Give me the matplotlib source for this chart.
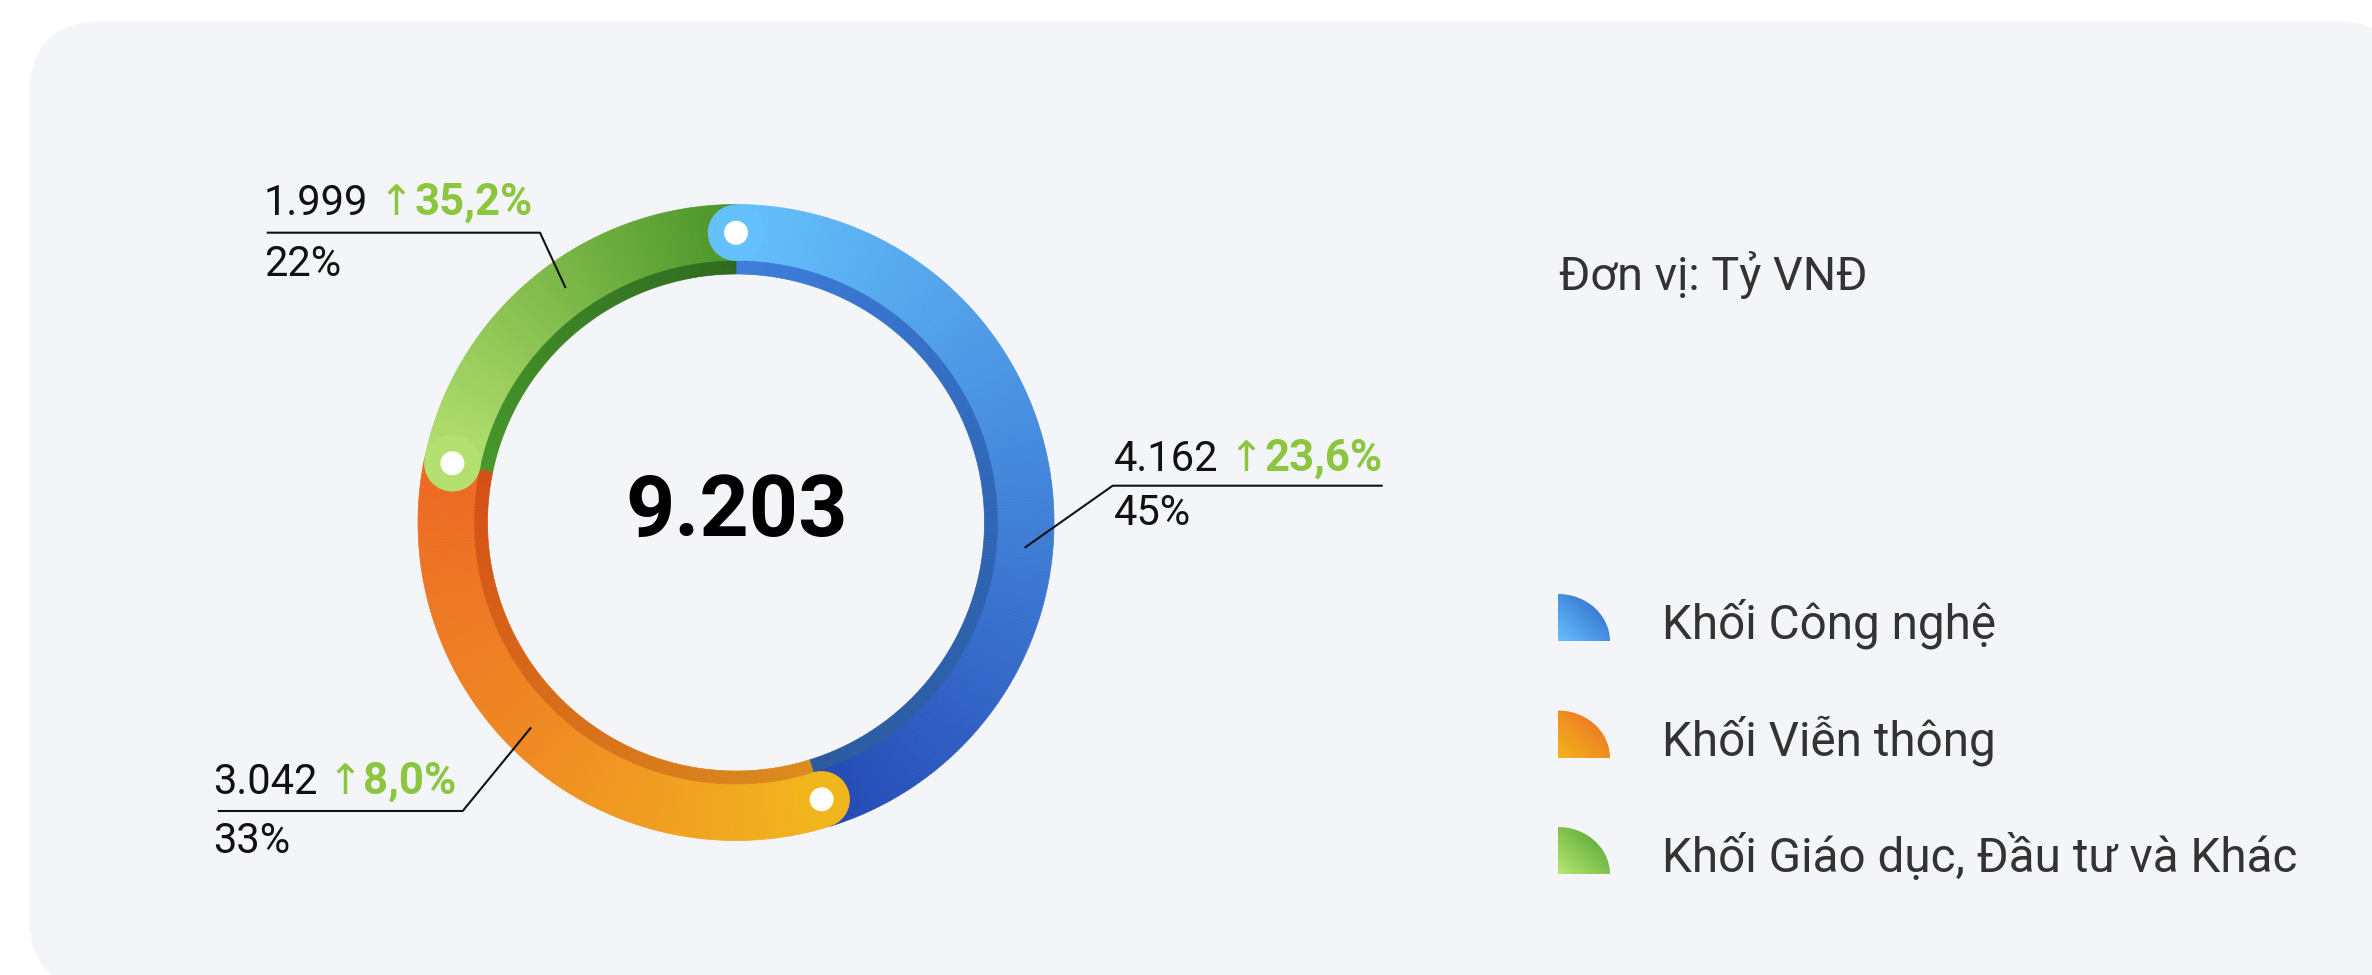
import numpy as np
import matplotlib
matplotlib.use("Agg")
import matplotlib.pyplot as plt
from matplotlib.patches import Wedge, Circle, FancyBboxPatch, Polygon
from matplotlib.colors import LinearSegmentedColormap, to_rgb

W, H = 2372, 975

# data
segments = ["Khối Công nghệ", "Khối Viễn thông", "Khối Giáo dục, Đầu tư và Khác"]
values = [4162, 3042, 1999]          # Tỷ VNĐ
growth = [23.6, 8.0, 35.2]           # % yoy
unit_label = "Đơn vị: Tỷ VNĐ"

# styles: gradient stops along each arc (start -> end), inner shadow band, legend icons
ring_colors = [["#64c1fb", "#4386db", "#2449b4"],
               ["#f2b61d", "#ef8a22", "#ec6824"],
               ["#b4e070", "#80bb4b", "#4a9428"]]
band_colors = [["#3d7cda", "#2f66b8", "#2a5a9e"],
               ["#da8c1c", "#d86d19", "#d44e15"],
               ["#47982b", "#3a8024", "#2e6a1e"]]
icon_colors = [("#64c1fb", "#2c5fc6"), ("#f2b41d", "#ed6a24"), ("#b6e66f", "#4c9e30")]
GREEN_TXT = "#8cc63f"

# layout (pixels, y measured from top)
CX, CY = 736, 522.5
R_OUT, R_RING_IN, R_IN = 318, 261.5, 248.5
R_MID = (R_OUT + R_RING_IN) / 2
CAP_R = (R_OUT - R_RING_IN) / 2
# per segment: anchor angle on ring, elbow point, line end x, text x, value baseline, share baseline
label_layout = [
    (-5, (1112.7, 485.7), 1382.7, 1114, 471, 525),
    (-135, (462.7, 811), 217.7, 213, 794, 853),
    (126, (540, 232.7), 266.7, 264, 215, 276),
]
legend_x, legend_text_x = 1558, 1662.5
legend_baselines = [638.5, 755, 871.5]


def py(y):
    return H - y


def fmt_int(v):
    return f"{v:,}".replace(",", ".")


def fmt_pct(v):
    return f"{v:.1f}".replace(".", ",") + "%"


fig = plt.figure(figsize=(W / 100, H / 100), dpi=100)
fig.patch.set_facecolor("white")
ax = fig.add_axes([0, 0, 1, 1])
ax.set_xlim(0, W)
ax.set_ylim(0, H)
ax.axis("off")

# card background
ax.add_patch(FancyBboxPatch((29, py(990)), 2408 - 29, 990 - 21,
                            boxstyle="round,pad=0,rounding_size=75",
                            fc="#f4f5f9", ec="none", zorder=0))

# donut ring with angular gradients
total = sum(values)
cy = py(CY)
start = 90.0
starts = []
for i, v in enumerate(values):
    span = 360.0 * v / total
    cmap_r = LinearSegmentedColormap.from_list(f"r{i}", ring_colors[i])
    cmap_b = LinearSegmentedColormap.from_list(f"b{i}", band_colors[i])
    n = max(int(span * 1.5), 2)
    edges = np.linspace(start, start - span, n + 1)
    for k in range(n):
        t = (k + 0.5) / n
        a1, a0 = edges[k], edges[k + 1]
        c = cmap_r(t)
        ax.add_patch(Wedge((CX, cy), R_OUT, a0, a1, width=R_OUT - R_RING_IN,
                           fc=c, ec=c, lw=0.5, zorder=1))
        cb = cmap_b(t)
        ax.add_patch(Wedge((CX, cy), R_RING_IN, a0, a1, width=R_RING_IN - R_IN,
                           fc=cb, ec=cb, lw=0.5, zorder=1))
    starts.append(start)
    start -= span

# rounded caps with white dots at each segment start
for i, a in enumerate(starts):
    rad = np.radians(a)
    x, y = CX + R_MID * np.cos(rad), cy + R_MID * np.sin(rad)
    ax.add_patch(Circle((x, y), CAP_R, fc=ring_colors[i][0], ec="none", zorder=3))
    ax.add_patch(Circle((x, y), 12, fc="white", ec="none", zorder=4))

# total in the middle
ax.text(737, py(536), fmt_int(total), ha="center", va="baseline",
        fontsize=62, fontweight="bold", family="Roboto", color="black", zorder=5)

# value labels with leader lines
renderer = fig.canvas.get_renderer()
for i, v in enumerate(values):
    ang, (ex, ey), end_x, tx, base, pbase = label_layout[i]
    rad = np.radians(ang)
    axx, ayy = CX + R_MID * np.cos(rad), cy + R_MID * np.sin(rad)
    ax.plot([axx, ex, end_x], [ayy, py(ey), py(ey)], color="#111111",
            lw=1.5, solid_capstyle="butt", zorder=6)
    t1 = ax.text(tx, py(base), fmt_int(v), ha="left", va="baseline",
                 fontsize=30, family="Roboto", color="#111111")
    bb = t1.get_window_extent(renderer)
    t2 = ax.text(bb.x1 + 10, py(base), "↑", ha="left", va="baseline",
                 fontsize=30, family=["Roboto", "DejaVu Sans"], color=GREEN_TXT)
    bb2 = t2.get_window_extent(renderer)
    ax.text(bb2.x1 + 1, py(base), fmt_pct(growth[i]), ha="left", va="baseline",
            fontsize=31.5, fontweight="bold", family="Roboto", color=GREEN_TXT)
    share = round(100 * v / total)
    ax.text(tx, py(pbase), f"{share}%", ha="left", va="baseline",
            fontsize=30, family="Roboto", color="#111111")

# unit
ax.text(1559, py(290), unit_label, ha="left", va="baseline",
        fontsize=33.7, family="Roboto", color="#333333")

# legend: quarter-disc icons with diagonal gradient
iw, ih = 52, 47.5
uu, vv = np.meshgrid(np.linspace(0, 1, 64), np.linspace(0, 1, 64))
tt = (uu + vv) / 2
for i, name in enumerate(segments):
    y0 = py(legend_baselines[i] + 3)
    th = np.linspace(0, np.pi / 2, 60)
    pts = [(legend_x, y0)] + [(legend_x + iw * np.cos(a), y0 + ih * np.sin(a)) for a in th]
    poly = Polygon(pts, closed=True, fc="none", ec="none")
    ax.add_patch(poly)
    c0, c1 = np.array(to_rgb(icon_colors[i][0])), np.array(to_rgb(icon_colors[i][1]))
    img = c0[None, None, :] * (1 - tt[..., None]) + c1[None, None, :] * tt[..., None]
    im = ax.imshow(img, extent=[legend_x, legend_x + iw, y0, y0 + ih], origin="lower",
                   interpolation="bilinear", zorder=2)
    im.set_clip_path(poly)
    ax.text(legend_text_x, py(legend_baselines[i]), name, ha="left", va="baseline",
            fontsize=34.3, family="Roboto", color="#333333")

ax.set_xlim(0, W)
ax.set_ylim(0, H)
ax.set_aspect("auto")

fig.savefig("out.png", dpi=100, facecolor="white")
